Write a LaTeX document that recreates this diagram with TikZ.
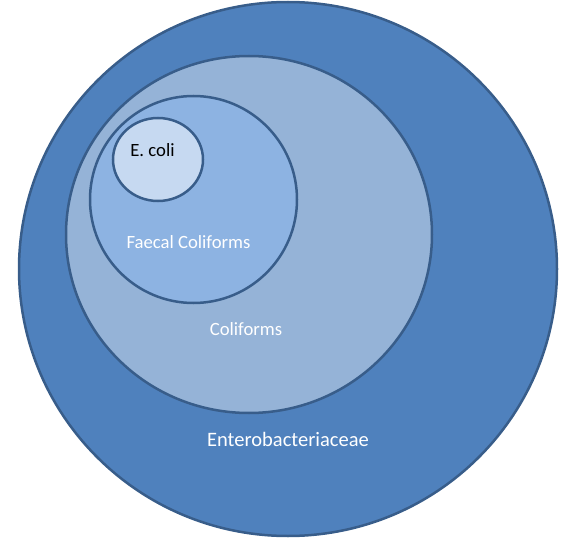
\documentclass[tikz,border=0pt]{standalone}
\usepackage{fontspec}
\setmainfont{Carlito}
\usetikzlibrary{shapes.geometric}
\definecolor{edgeblue}{RGB}{56, 93, 138}
\definecolor{enterofill}{RGB}{79, 129, 189}
\definecolor{colifill}{RGB}{149, 179, 215}
\definecolor{faecalfill}{RGB}{141, 179, 226}
\definecolor{ecolifill}{RGB}{198, 217, 241}

\begin{document}
\begin{tikzpicture}[x = 1pt, y = -1pt]
			\useasboundingbox (0,0) rectangle (571,543);
			\tikzset{set/.style = {ellipse, draw = edgeblue, line width = 2.5pt, inner sep = 0pt},
				label/.style = {anchor = base, inner sep = 0pt, font = \fontsize{18.7}{20}\selectfont}}
			\node (entero) at (288,269) [set, fill = enterofill, minimum width = 538pt, minimum height = 534pt] {};
			\node (coli) at (249,234.5) [set, fill = colifill, minimum width = 366pt, minimum height = 357pt] {};
			\node (faecal) at (193.5,199.5) [set, fill = faecalfill, minimum width = 207pt, minimum height = 207pt] {};
			\node (ecoli) at (158,159.5) [set, fill = ecolifill, minimum width = 90pt, minimum height = 83pt] {};
			\node (ecolitext) at (152.5,156.7) [label] {E. coli};
			\node (faecaltext) at (188.5,248.3) [label, text = white] {Faecal Coliforms};
			\node (colitext) at (246,335) [label, text = white] {Coliforms};
			\node (enterotext) at (288,446.7) [label, text = white, font = \fontsize{20.5}{22}\selectfont] {Enterobacteriaceae};
			\end{tikzpicture}
\end{document}
